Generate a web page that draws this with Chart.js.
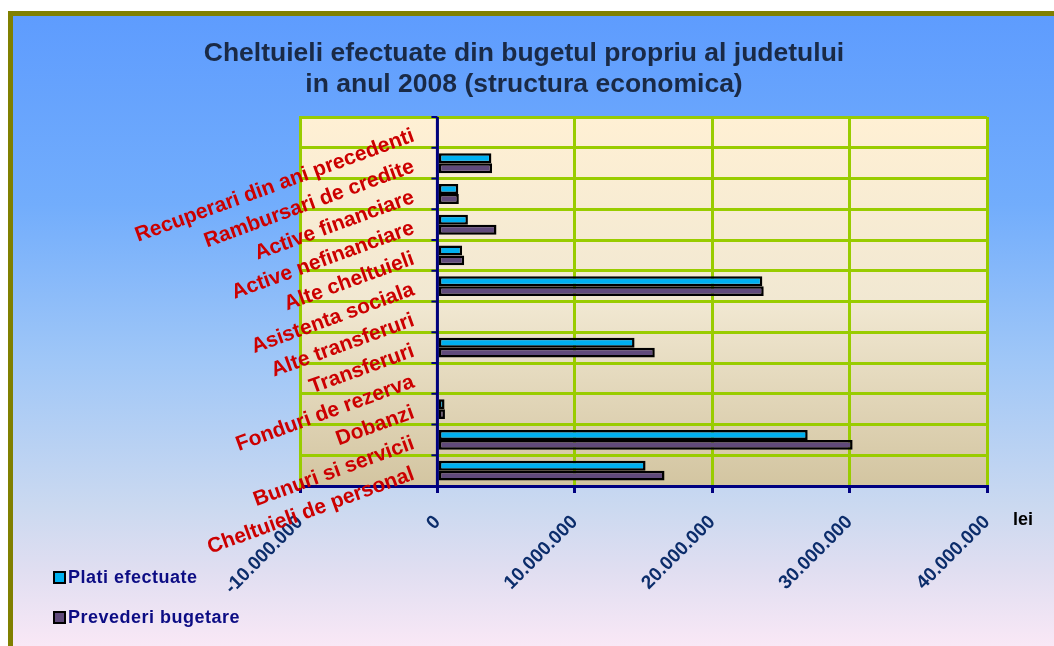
<!DOCTYPE html>
<html>
<head>
<meta charset="utf-8">
<title>Cheltuieli 2008</title>
<script src="https://cdn.jsdelivr.net/npm/chart.js@4.4.0/dist/chart.umd.min.js"></script>
<style>
  html, body { margin: 0; padding: 0; width: 1054px; height: 646px; overflow: hidden; background: #ffffff; }
  .frame {
    position: absolute; left: 8px; top: 11px; right: 0; bottom: 0;
    border-top: 5px solid #808000; border-left: 5px solid #808000;
    background: linear-gradient(to bottom, #5e9cfe 0%, #72adfc 30%, #a0c7f7 55%, #cbd9f0 78%, #e0def1 88%, #f9e8f6 100%);
  }
  #budget-chart { position: absolute; left: 0; top: 0; }
  #html-legend {
    position: absolute; left: 53px; top: 565px; margin: 0; padding: 0; list-style: none;
    font: bold 18px "Liberation Sans", Arial, sans-serif; color: #0c0c84; letter-spacing: 0.5px;
  }
  #html-legend li { display: flex; align-items: center; height: 24px; margin-bottom: 16px; }
  .little-box { display: inline-block; width: 9px; height: 9px; border: 2px solid #000; margin-right: 2px; }
</style>
</head>
<body>
<div class="frame"></div>
<canvas id="budget-chart" width="1054" height="646"></canvas>
<ul id="html-legend"></ul>
<script>
// top to bottom, as in the picture
const categories = [
  "Recuperari din ani precedenti", "Rambursari de credite", "Active financiare",
  "Active nefinanciare", "Alte cheltuieli", "Asistenta sociala", "Alte transferuri",
  "Transferuri", "Fonduri de rezerva", "Dobanzi", "Bunuri si servicii", "Cheltuieli de personal"
];
const platiEfectuate = [-90000, 3930000, 1520000, 2220000, 1800000, 23650000, 0, 14350000, 0, 520000, 26950000, 15150000];
const prevederiBugetare = [0, 3980000, 1560000, 4300000, 1950000, 23750000, 0, 15820000, 0, 550000, 30220000, 16530000];
const seriesNames = ["Plati efectuate", "Prevederi bugetare"];
const seriesColors = ["#00b0f0", "#604a7b"];
const xTicks = [-10000000, 0, 10000000, 20000000, 30000000, 40000000];

const fontFamily = '"Liberation Sans", Arial, sans-serif';

function formatLei(v) {
  const s = Math.abs(v).toString().replace(/\B(?=(\d{3})+(?!\d))/g, ".");
  return (v < 0 ? "-" : "") + s;
}

const plotDecor = {
  id: "plotDecor",
  beforeDraw(chart) {
    const { ctx, chartArea: a } = chart;
    const g = ctx.createLinearGradient(0, a.top, 0, a.bottom);
    g.addColorStop(0, "#fff0d4");
    g.addColorStop(0.5, "#f1e8d2");
    g.addColorStop(1, "#d3c5a1");
    ctx.save();
    ctx.fillStyle = g;
    ctx.fillRect(a.left, a.top, a.right - a.left, a.bottom - a.top);
    ctx.restore();
  },
  afterDatasetsDraw(chart) {
    const { ctx, chartArea: a, scales: { x, y } } = chart;
    const x0 = x.getPixelForValue(0);
    const step = y.getPixelForValue(1) - y.getPixelForValue(0);
    ctx.save();
    ctx.strokeStyle = "#000080";
    ctx.lineWidth = 3;
    ctx.beginPath();
    ctx.moveTo(x0, a.top);
    ctx.lineTo(x0, a.bottom);
    ctx.stroke();
    ctx.lineWidth = 2;
    for (let i = 0; i <= categories.length; i++) {
      const yy = y.getPixelForValue(i) - step / 2;
      ctx.beginPath();
      ctx.moveTo(x0 - 6, yy);
      ctx.lineTo(x0, yy);
      ctx.stroke();
    }
    ctx.restore();
  },
  afterDraw(chart) {
    const { ctx, chartArea: a, scales: { x, y } } = chart;
    ctx.save();
    ctx.fillStyle = "#cc0000";
    ctx.font = "bold 21px " + fontFamily;
    ctx.textAlign = "right";
    ctx.textBaseline = "middle";
    categories.forEach((label, i) => {
      ctx.save();
      ctx.translate(x.getPixelForValue(0) - 24, y.getPixelForValue(i) + 3);
      ctx.rotate(-20 * Math.PI / 180);
      ctx.fillText(label, 0, 0);
      ctx.restore();
    });
    ctx.fillStyle = "#000000";
    ctx.font = "bold 18px " + fontFamily;
    ctx.textAlign = "center";
    ctx.fillText("lei", a.right + 36, a.bottom + 34);
    ctx.restore();
  }
};

const chart = new Chart(document.getElementById("budget-chart"), {
  type: "bar",
  data: {
    labels: categories,
    datasets: [
      { label: seriesNames[0], data: platiEfectuate, backgroundColor: seriesColors[0] },
      { label: seriesNames[1], data: prevederiBugetare, backgroundColor: seriesColors[1] }
    ]
  },
  options: {
    indexAxis: "y",
    responsive: false,
    animation: false,
    datasets: {
      bar: { borderColor: "#000000", borderWidth: 2.5, borderSkipped: false, categoryPercentage: 0.65, barPercentage: 1 }
    },
    layout: { padding: { top: 0, left: 0, right: 6, bottom: 0 } },
    plugins: {
      legend: { display: false },
      tooltip: { enabled: false },
      title: {
        display: true,
        text: ["Cheltuieli efectuate din bugetul propriu al judetului", "in anul 2008 (structura economica)"],
        color: "#1a2a46",
        font: { family: fontFamily, size: 26.5, weight: "bold", lineHeight: 1.17 },
        padding: { top: 38.5, bottom: 16.5 }
      }
    },
    scales: {
      x: {
        min: xTicks[0],
        max: xTicks[xTicks.length - 1],
        afterBuildTicks(scale) { scale.ticks = xTicks.map(v => ({ value: v })); },
        afterFit(scale) { scale.height = 160; scale.paddingRight = 67; },
        grid: {
          color: "#99cc00",
          lineWidth: 3,
          tickColor: "#000080",
          tickLength: 7
        },
        border: { display: true, color: "#000080", width: 3 },
        ticks: {
          minRotation: 45,
          maxRotation: 45,
          padding: 18,
          color: "#0c2d6b",
          font: { family: fontFamily, size: 19, weight: "bold" },
          callback: v => formatLei(v)
        }
      },
      y: {
        afterFit(scale) { scale.width = 300; },
        grid: { color: "#99cc00", lineWidth: 3, drawTicks: false },
        border: { display: true, color: "#99cc00", width: 3 },
        ticks: { display: false }
      }
    }
  },
  plugins: [plotDecor]
});

const htmlLegend = document.getElementById("html-legend");
seriesNames.forEach((name, index) => {
  const li = document.createElement("li");
  const box = document.createElement("span");
  box.classList.add("little-box");
  box.style.backgroundColor = seriesColors[index];
  const text = document.createElement("span");
  text.textContent = name;
  li.appendChild(box);
  li.appendChild(text);
  htmlLegend.appendChild(li);
});
</script>
</body>
</html>
